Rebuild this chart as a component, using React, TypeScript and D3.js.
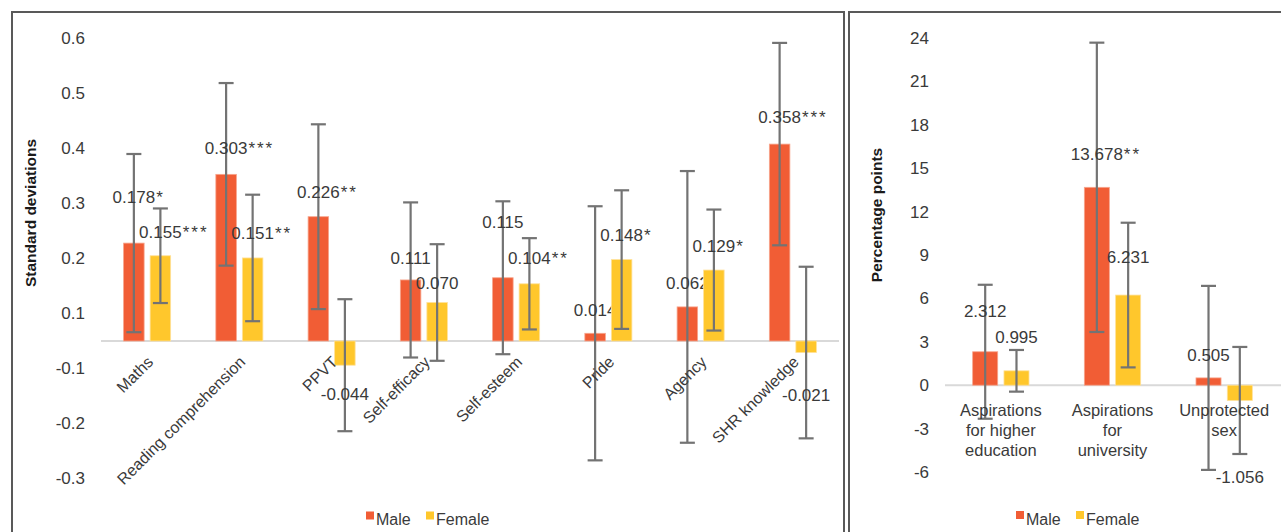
import React, { useRef, useEffect } from 'react';
import * as d3 from 'd3';

// Left panel: effects in standard deviations
const outcomes = ['Maths', 'Reading comprehension', 'PPVT', 'Self-efficacy', 'Self-esteem', 'Pride', 'Agency', 'SHR knowledge'];
const maleSd = [0.178, 0.303, 0.226, 0.111, 0.115, 0.014, 0.062, 0.358];
const femaleSd = [0.155, 0.151, -0.044, 0.070, 0.104, 0.148, 0.129, -0.021];
const maleSdErr = [0.162, 0.166, 0.168, 0.141, 0.139, 0.231, 0.247, 0.184];
const femaleSdErr = [0.086, 0.115, 0.12, 0.106, 0.083, 0.126, 0.11, 0.156];
const maleSdStars = ['*', '***', '**', '', '', '', '', '***'];
const femaleSdStars = ['***', '**', '', '', '**', '*', '*', ''];
const sdTickLabels = ['0.6', '0.5', '0.4', '0.3', '0.2', '0.1', '-0.1', '-0.2', '-0.3'];

// Right panel: effects in percentage points
const aspirations = ['Aspirations for higher education', 'Aspirations for university', 'Unprotected sex'];
const aspirationLines = [['Aspirations', 'for higher', 'education'], ['Aspirations', 'for', 'university'], ['Unprotected', 'sex']];
const malePp = [2.312, 13.678, 0.505];
const femalePp = [0.995, 6.231, -1.056];
const malePpErr = [4.63, 10.0, 6.36];
const femalePpErr = [1.44, 5.0, 3.7];
const malePpStars = ['', '**', ''];
const femalePpStars = ['', '', ''];
const ppTicks = [-6, -3, 0, 3, 6, 9, 12, 15, 18, 21, 24];

const series = ['Male', 'Female'];
const colors = { Male: '#F15D35', Female: '#FFC72C' };

// distance (px) of each value label from the end of its bar, as laid out in the original
const sdLabelGap = { Male: [46, 26, 25, 22, 56, 23, 24, 27], Female: [24, 25, 29, 19, 26, 25, 24, 42] };
const ppLabelGap = { Male: [41, 33, 23], Female: [34, 38, 77] };

const FONT = '"Liberation Sans", Arial, sans-serif';
const TEXT = '#3a3a3a';

const drawBars = (svg, cfg) => {
  const { cats, values, errs, stars, gaps, x0, x1, y } = cfg;
  const g = svg.append('g');

  cats.forEach((cat, i) => {
    series.forEach(s => {
      const v = values[s][i];
      const bx = x0(cat) + x1(s);
      const bw = x1.bandwidth();
      const cx = bx + bw / 2;

      g.append('rect')
        .attr('x', bx)
        .attr('y', Math.min(y(v), y(0)))
        .attr('width', bw)
        .attr('height', Math.abs(y(v) - y(0)))
        .attr('fill', colors[s])
        .attr('stroke', s === 'Male' ? '#f7a58d' : '#ffe19a')
        .attr('stroke-width', 0.8);

      // error bar
      const e = errs[s][i];
      const eg = g.append('g').attr('stroke', '#737373').attr('stroke-width', 2.2);
      eg.append('line').attr('x1', cx).attr('x2', cx).attr('y1', y(v + e)).attr('y2', y(v - e));
      [v + e, v - e].forEach(t => {
        eg.append('line').attr('x1', cx - 7.5).attr('x2', cx + 7.5).attr('y1', y(t)).attr('y2', y(t));
      });

      // value label, centred on the number, stars trailing
      const ly = v >= 0 ? y(v) - gaps[s][i] : y(v) + gaps[s][i];
      const num = g.append('text')
        .attr('x', cx)
        .attr('y', ly)
        .attr('dy', '0.35em')
        .attr('text-anchor', 'middle')
        .style('font-family', FONT)
        .style('font-size', '17px')
        .attr('fill', TEXT)
        .text(v.toFixed(3));
      const st = stars[s][i];
      if (st) {
        const w = num.node().getComputedTextLength();
        g.append('text')
          .attr('x', cx + w / 2 + 1)
          .attr('y', ly)
          .attr('dy', '0.35em')
          .style('font-family', FONT)
          .style('font-size', '17px')
          .style('letter-spacing', '2px')
          .attr('fill', TEXT)
          .text(st);
      }
    });
  });
};

const drawLegend = (svg, x, y) => {
  const lg = svg.append('g').attr('transform', `translate(${x}, ${y})`);
  series.forEach((s, i) => {
    lg.append('rect').attr('x', i * 60).attr('y', 0).attr('width', 8).attr('height', 8).attr('fill', colors[s]);
    lg.append('text')
      .attr('x', i * 60 + 10)
      .attr('y', 13.5)
      .style('font-family', FONT)
      .style('font-size', '16px')
      .attr('fill', TEXT)
      .text(s);
  });
};

const App = () => {
  const svgRef = useRef(null);
  const width = 1281;
  const height = 532;

  useEffect(() => {
    if (!svgRef.current) return;
    const svg = d3.select(svgRef.current);
    svg.selectAll('*').remove();

    // panel frames
    svg.append('rect').attr('x', 12).attr('y', 12).attr('width', 832).attr('height', 560)
      .attr('fill', 'none').attr('stroke', '#595959').attr('stroke-width', 2);
    svg.append('rect').attr('x', 849).attr('y', 12).attr('width', 460).attr('height', 560)
      .attr('fill', 'none').attr('stroke', '#595959').attr('stroke-width', 2);

    // ---------- left panel ----------
    const yL = d3.scaleLinear().domain([-0.25, 0.55]).range([478.5, 38.5]);
    const tickPos = d3.scalePoint().domain(sdTickLabels).range([yL(0.55), yL(-0.25)]);
    const x0L = d3.scaleBand().domain(outcomes).range([101, 839]).paddingInner(0.49).paddingOuter(0.245);
    const x1L = d3.scaleBand().domain(series).range([0, x0L.bandwidth()]).paddingInner(0.226);

    svg.append('g').selectAll('text')
      .data(sdTickLabels)
      .enter()
      .append('text')
      .attr('x', 85)
      .attr('y', d => tickPos(d))
      .attr('dy', '0.35em')
      .attr('text-anchor', 'end')
      .style('font-family', FONT)
      .style('font-size', '17px')
      .attr('fill', TEXT)
      .text(d => d);

    svg.append('line')
      .attr('x1', 101).attr('x2', 839)
      .attr('y1', yL(0)).attr('y2', yL(0))
      .attr('stroke', '#d9d9d9').attr('stroke-width', 2);

    svg.append('text')
      .attr('transform', 'translate(36, 213) rotate(-90)')
      .attr('text-anchor', 'middle')
      .style('font-family', FONT)
      .style('font-size', '15.5px')
      .style('font-weight', 'bold')
      .attr('fill', '#1a1a1a')
      .text('Standard deviations');

    drawBars(svg, {
      cats: outcomes,
      values: { Male: maleSd, Female: femaleSd },
      errs: { Male: maleSdErr, Female: femaleSdErr },
      stars: { Male: maleSdStars, Female: femaleSdStars },
      gaps: sdLabelGap,
      x0: x0L, x1: x1L, y: yL
    });

    // rotated category labels
    svg.append('g').selectAll('text')
      .data(outcomes)
      .enter()
      .append('text')
      .attr('transform', d => `translate(${x0L(d) + x0L.bandwidth() / 2 + 7}, ${yL(0) + 22}) rotate(-45)`)
      .attr('text-anchor', 'end')
      .style('font-family', FONT)
      .style('font-size', '16px')
      .attr('fill', TEXT)
      .text(d => d);

    drawLegend(svg, 366, 511.5);

    // ---------- right panel ----------
    const yR = d3.scaleLinear().domain([-6, 24]).range([472, 38]);
    const x0R = d3.scaleBand().domain(aspirations).range([945, 1280]).paddingInner(0.4955).paddingOuter(0.2478);
    const x1R = d3.scaleBand().domain(series).range([0, x0R.bandwidth()]).paddingInner(0.2);

    svg.append('g').selectAll('text')
      .data(ppTicks)
      .enter()
      .append('text')
      .attr('x', 929)
      .attr('y', d => yR(d))
      .attr('dy', '0.35em')
      .attr('text-anchor', 'end')
      .style('font-family', FONT)
      .style('font-size', '17px')
      .attr('fill', TEXT)
      .text(d => d);

    svg.append('line')
      .attr('x1', 945).attr('x2', 1281)
      .attr('y1', yR(0)).attr('y2', yR(0))
      .attr('stroke', '#d9d9d9').attr('stroke-width', 2);

    svg.append('text')
      .attr('transform', 'translate(882, 215) rotate(-90)')
      .attr('text-anchor', 'middle')
      .style('font-family', FONT)
      .style('font-size', '15.5px')
      .style('font-weight', 'bold')
      .attr('fill', '#1a1a1a')
      .text('Percentage points');

    drawBars(svg, {
      cats: aspirations,
      values: { Male: malePp, Female: femalePp },
      errs: { Male: malePpErr, Female: femalePpErr },
      stars: { Male: malePpStars, Female: femalePpStars },
      gaps: ppLabelGap,
      x0: x0R, x1: x1R, y: yR
    });

    aspirations.forEach((cat, i) => {
      const t = svg.append('text')
        .attr('text-anchor', 'middle')
        .style('font-family', FONT)
        .style('font-size', '16.5px')
        .attr('fill', TEXT);
      aspirationLines[i].forEach((line, j) => {
        t.append('tspan')
          .attr('x', x0R(cat) + x0R.bandwidth() / 2)
          .attr('y', yR(0) + 31 + j * 20)
          .text(line);
      });
    });

    drawLegend(svg, 1016, 511);
  }, []);

  return (
    <svg
      ref={svgRef}
      width={width}
      height={height}
      style={{ position: 'absolute', left: 0, top: 0, background: '#fff' }}
    />
  );
};

export default App;
